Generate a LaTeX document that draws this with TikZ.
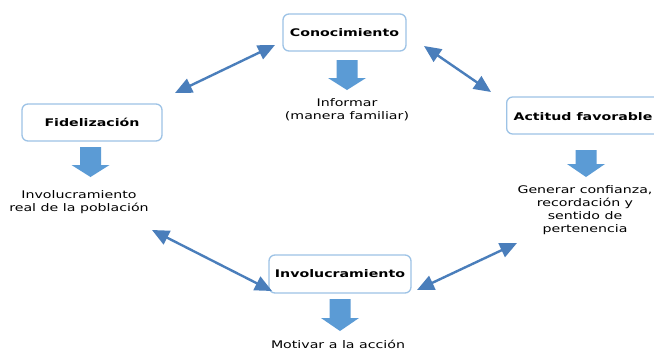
\documentclass[tikz,border=0pt]{standalone}
\usepackage{fontspec}
\setmainfont{DejaVu Sans}
\usepackage{graphicx}
\usetikzlibrary{arrows.meta}
\definecolor{boxline}{HTML}{9DC3E6}
\definecolor{arrowblue}{HTML}{4A7EBB}
\definecolor{blockfill}{HTML}{5B9BD5}
\newcommand{\hs}[1]{\scalebox{1.35}[1]{#1}}
\newcommand{\barrow}[4]{%
  \fill[blockfill] (#1-10.5,#2) -- (#1+10.5,#2) -- (#1+10.5,#3) -- (#1+19,#3)
    -- (#1,#4) -- (#1-19,#3) -- (#1-10.5,#3) -- cycle;}
\tikzset{
  box/.style={draw=boxline, line width=1.3pt, rounded corners=6pt, fill=white,
    inner sep=0pt, font=\fontsize{10.5}{13}\selectfont\bfseries},
  txt/.style={inner sep=0pt, font=\fontsize{10.5}{13}\selectfont},
  dbl/.style={draw=arrowblue, line width=2.4pt,
    {Triangle[length=17pt,width=15pt]}-{Triangle[length=17pt,width=15pt]}}
}
\begin{document}
\begin{tikzpicture}[x=1pt,y=-1pt]
\useasboundingbox (0,0) rectangle (654,349);
\clip (0,0) rectangle (654,349);
\fill[white] (0,0) rectangle (654,349);
% boxes
\node[box, minimum width=123pt, minimum height=37pt] (con) at (344.5,32.5) {\hs{Conocimiento}};
\node[box, minimum width=140pt, minimum height=37pt] (fid) at (92,122.5) {\hs{Fidelización}};
\node[box, minimum width=170pt, minimum height=37pt, anchor=west] (act) at (506,115.5) {};
\node[txt, font=\fontsize{10.5}{13}\selectfont\bfseries] (actt) at (583,117) {\hs{Actitud favorable}};
\node[box, minimum width=142pt, minimum height=38pt] (inv) at (340,274) {\hs{Involucramiento}};
% block arrows
\barrow{347}{60}{78}{90}
\barrow{90.5}{147}{165}{177}
\barrow{586}{150}{164}{177}
\barrow{340}{299}{318}{331}
% texts
\node[txt] (t1) at (347,110) {\hs{\begin{tabular}{@{}c@{}}Informar\\(manera familiar)\end{tabular}}};
\node[txt] (t2) at (79,202) {\hs{\begin{tabular}{@{}c@{}}Involucramiento\\real de la población\end{tabular}}};
\node[txt] (t3) at (585,210) {\hs{\begin{tabular}{@{}c@{}}Generar confianza,\\recordación y\\sentido de\\pertenencia\end{tabular}}};
\node[txt, anchor=base] (t4) at (338,348) {\hs{Motivar a la acción}};
% double arrows
\coordinate (a1) at (175,93);
\coordinate (a2) at (275,45);
\coordinate (b1) at (424,46);
\coordinate (b2) at (491,92);
\coordinate (c1) at (152,230);
\coordinate (c2) at (272,291);
\coordinate (d1) at (417,290);
\coordinate (d2) at (517,243);
\draw[dbl] (a1) -- (a2);
\draw[dbl] (b1) -- (b2);
\draw[dbl] (c1) -- (c2);
\draw[dbl] (d1) -- (d2);
\end{tikzpicture}
\end{document}
